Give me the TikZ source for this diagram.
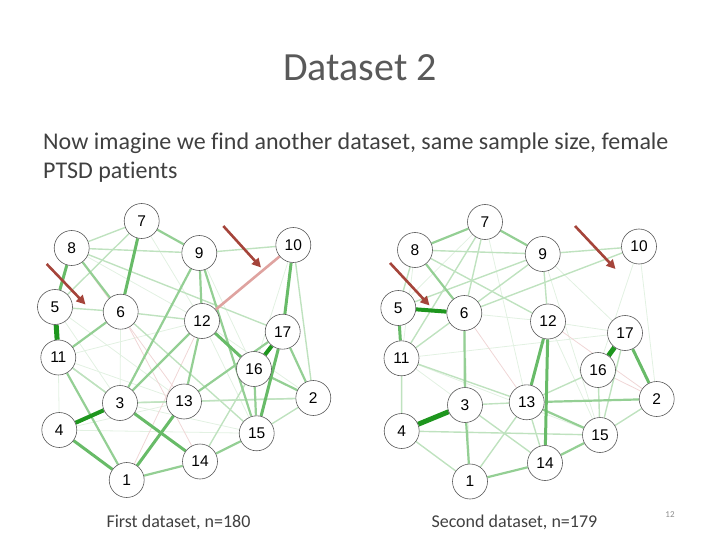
\documentclass[tikz,border=0pt]{standalone}
\usepackage{fontspec}
\setmainfont{Carlito}[Ligatures=NoCommon]
\setsansfont{Liberation Sans}
\usetikzlibrary{arrows.meta, backgrounds}
\definecolor{cTitle}{HTML}{595959}
\definecolor{cText}{HTML}{404040}
\definecolor{cNum}{HTML}{8C8C8C}
\definecolor{cDark}{HTML}{1E961E}
\definecolor{cMid}{HTML}{68BB68}
\definecolor{cSoft}{HTML}{94CF94}
\definecolor{cLight}{HTML}{BFE2BF}
\definecolor{cFaint}{HTML}{E2F1E2}
\definecolor{cPink}{HTML}{DFA3A0}
\definecolor{cPinkFaint}{HTML}{F0D6D6}
\definecolor{cArrow}{HTML}{A5443A}

\begin{document}
\begin{tikzpicture}[
    x=1pt, y=-1pt,
    % ---------------------------------------------------------
    % STYLES
    % ---------------------------------------------------------
    var/.style={
        circle,
        draw=black!65,
        line width=0.6pt,
        fill=white,
        minimum size=35pt,
        inner sep=0pt,
        font=\sffamily\fontsize{15.5}{15.5}\selectfont
    },
    s5/.style={draw=cDark, line width=5pt},
    s4/.style={draw=cDark, line width=4pt},
    s3/.style={draw=cMid, line width=3pt},
    s2/.style={draw=cSoft, line width=2.2pt},
    s1/.style={draw=cLight, line width=1.4pt},
    s0/.style={draw=cFaint, line width=0.8pt},
    n2/.style={draw=cPink, line width=2.6pt},
    n0/.style={draw=cPinkFaint, line width=0.8pt},
    pointer/.style={
        draw=cArrow,
        line width=2.6pt,
        -{Triangle[length=9pt, width=9pt]}
    },
    caption/.style={
        anchor=base west,
        text=cText,
        font=\fontsize{18}{18}\selectfont
    }
]
\useasboundingbox (0,0) rectangle (720,540);

% ---------------------------------------------------------
% 1. TEXTS
% ---------------------------------------------------------
\node[anchor=base, text=cTitle, font=\fontsize{40}{40}\selectfont] (title) at (360,81) {Dataset 2};
\node[anchor=north west, align=left, inner sep=0pt, text=cText,
      font=\fontsize{24}{28.5}\selectfont] (body) at (43,133)
      {Now imagine we find another dataset, same sample size, female\\PTSD patients};

% ---------------------------------------------------------
% 2. FIRST NETWORK (n=180)
% ---------------------------------------------------------
\node[var] (L7) at (141.7,221) {7};
\node[var] (L8) at (71.7,248) {8};
\node[var] (L9) at (199.3,253) {9};
\node[var] (L10) at (293.3,245) {10};
\node[var] (L5) at (55,307) {5};
\node[var] (L6) at (120.7,311.7) {6};
\node[var] (L12) at (202,321) {12};
\node[var] (L17) at (282.7,331.7) {17};
\node[var] (L11) at (58.3,357.5) {11};
\node[var] (L16) at (254,369) {16};
\node[var] (L3) at (120,403) {3};
\node[var] (L13) at (184,401.5) {13};
\node[var] (L2) at (313.3,398) {2};
\node[var] (L4) at (59.3,430) {4};
\node[var] (L15) at (256.7,433.3) {15};
\node[var] (L14) at (200,461.5) {14};
\node[var] (L1) at (126.7,480) {1};

\begin{scope}[on background layer]
\foreach \a/\b in {5/3,5/13,11/13,4/15,12/15,7/12,4/13,11/12,4/11,6/3,9/16,8/12,3/15,12/2,10/16}
    \draw[s0] (L\a) -- (L\b);
\foreach \a/\b in {6/14,1/12,8/13}
    \draw[n0] (L\a) -- (L\b);
\foreach \a/\b in {9/10,10/2,15/2,14/16,6/12,6/15,8/9,5/6,5/7,3/2,13/2,11/3,8/17,3/13,11/14,7/8}
    \draw[s1] (L\a) -- (L\b);
\foreach \a/\b in {7/9,12/13,1/14,16/15,9/12,9/3,14/15,11/1,8/6,6/11,3/12,13/17,17/2,16/2,9/15}
    \draw[s2] (L\a) -- (L\b);
\draw[n2] (L10) -- (L12);
\foreach \a/\b in {17/15,8/5,12/16,3/14,4/1,1/13,10/17,7/6}
    \draw[s3] (L\a) -- (L\b);
\foreach \a/\b in {4/3,17/16}
    \draw[s4] (L\a) -- (L\b);
\draw[s5] (L5) -- (L11);
\end{scope}

% ---------------------------------------------------------
% 3. SECOND NETWORK (n=179)
% ---------------------------------------------------------
\node[var] (R7) at (485,222) {7};
\node[var] (R8) at (415,250) {8};
\node[var] (R9) at (542.7,254) {9};
\node[var] (R10) at (639,246.5) {10};
\node[var] (R5) at (398.3,308) {5};
\node[var] (R6) at (464.3,313) {6};
\node[var] (R12) at (548,321.5) {12};
\node[var] (R17) at (625,333) {17};
\node[var] (R11) at (401.5,358.3) {11};
\node[var] (R16) at (598,370) {16};
\node[var] (R3) at (465,405) {3};
\node[var] (R13) at (526.7,402.3) {13};
\node[var] (R2) at (656.7,399) {2};
\node[var] (R4) at (401.7,431) {4};
\node[var] (R15) at (600,435) {15};
\node[var] (R14) at (545,463) {14};
\node[var] (R1) at (470,481.5) {1};

\begin{scope}[on background layer]
\foreach \a/\b in {7/13,11/17,9/17,10/2,10/16,12/15,11/15,6/12,8/11,7/5,12/17,9/15,11/3,6/1}
    \draw[s0] (R\a) -- (R\b);
\foreach \a/\b in {6/13,12/2,16/2}
    \draw[n0] (R\a) -- (R\b);
\foreach \a/\b in {8/5,13/16,13/14,15/2,16/15,17/15,9/12,9/10,9/5,10/6,8/12,8/9,7/6,7/11,4/11,4/15,4/1,11/13,3/13,3/14,1/13,9/11}
    \draw[s1] (R\a) -- (R\b);
\foreach \a/\b in {7/9,7/8,6/3,3/1,13/2,13/15,14/15,1/14,8/6}
    \draw[s2] (R\a) -- (R\b);
\foreach \a/\b in {5/11,17/2,12/13,12/14}
    \draw[s3] (R\a) -- (R\b);
\draw[s4] (R5) -- (R6);
\foreach \a/\b in {17/16,4/3}
    \draw[s5] (R\a) -- (R\b);
\end{scope}

% ---------------------------------------------------------
% 4. POINTERS
% ---------------------------------------------------------
\coordinate (pL1s) at (46.7,264);
\coordinate (pL1e) at (85.5,304.5);
\coordinate (pL2s) at (223.3,226);
\coordinate (pL2e) at (261,267.5);
\coordinate (pR1s) at (390,263);
\coordinate (pR1e) at (429.5,305.5);
\coordinate (pR2s) at (575,226);
\coordinate (pR2e) at (615.5,269);
\draw[pointer] (pL1s) -- (pL1e);
\draw[pointer] (pL2s) -- (pL2e);
\draw[pointer] (pR1s) -- (pR1e);
\draw[pointer] (pR2s) -- (pR2e);

% ---------------------------------------------------------
% 5. CAPTIONS
% ---------------------------------------------------------
\node[caption] (capL) at (103,527.5) {First dataset, n=180};
\node[caption] (capR) at (428,527.5) {Second dataset, n=179};
\node[anchor=base, text=cNum, font=\fontsize{9}{9}\selectfont] (slideno) at (670,517) {12};

\end{tikzpicture}
\end{document}
